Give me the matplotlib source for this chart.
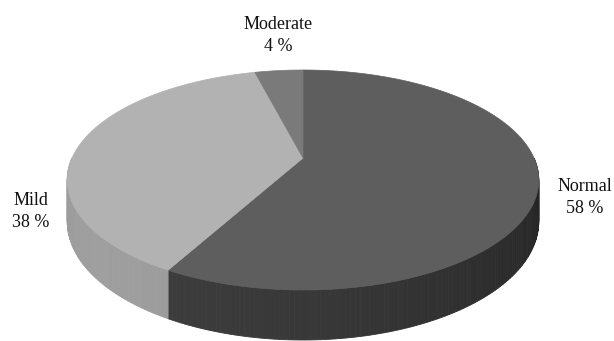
import numpy as np
import matplotlib
matplotlib.use("Agg")
import matplotlib.pyplot as plt
from matplotlib.patches import Polygon

# slice data (clockwise from 12 o'clock)
labels = ["Normal", "Mild", "Moderate"]
shares = [58, 38, 4]
pct_text = ["58 %", "38 %", "4 %"]

top_colors = ["#5e5e5e", "#b2b2b2", "#7a7a7a"]
side_base = [47, 122, 95]          # grey level of the rim before lighting

# perspective disc layout in pixel units
CX, CY = 303.0, 158.0
A, B, K = 231.0, 105.6, 0.2        # half-width, half-height, perspective strength
DEPTH = 40.0


def project(theta, drop=0.0):
    t = np.radians(theta)
    u, v = np.cos(t), np.sin(t)
    w = 1.0 + K * v
    return CX + A * u / w, CY - B * v / w + drop / w


def arc(t0, t1, drop=0.0, n=200):
    th = np.linspace(t0, t1, n)
    x, y = project(th, drop)
    return np.column_stack([x, y])


def light(theta):
    return 1.0 + 0.3 * np.cos(np.radians(theta + 140))


fig = plt.figure(figsize=(6.14, 3.41), dpi=100)
ax = fig.add_axes([0, 0, 1, 1])
ax.set_xlim(0, 614)
ax.set_ylim(341, 0)
ax.axis("off")

# slice angle ranges, going clockwise from 90 deg
bounds = []
start = 90.0
for s in shares:
    end = start - 360.0 * s / 100.0
    bounds.append((end, start))
    start = end

# rim (only the near half, -180..0, is visible)
for (lo, hi), base in zip(bounds, side_base):
    a0, a1 = max(lo, -180.0), min(hi, 0.0)
    if a1 <= a0:
        continue
    steps = np.linspace(a0, a1, max(2, int(a1 - a0) + 1))
    for t0, t1 in zip(steps[:-1], steps[1:]):
        g = np.clip(base * light(0.5 * (t0 + t1)), 0, 255) / 255.0
        pts = np.vstack([arc(t0, t1, 0, 4), arc(t1, t0, DEPTH, 4)])
        ax.add_patch(Polygon(pts, closed=True, facecolor=(g, g, g),
                             edgecolor=(g, g, g), lw=0.6))

# top faces, each a wedge from the disc centre
for (lo, hi), col in zip(bounds, top_colors):
    pts = np.vstack([[CX, CY], arc(hi, lo)])
    ax.add_patch(Polygon(pts, closed=True, facecolor=col, edgecolor=col, lw=0.5))

# labels
font = dict(family=["Liberation Serif", "DejaVu Serif"], fontsize=13,
            ha="center", va="baseline", color="#111111")
label_pos = {"Normal": (585, 191), "Mild": (31, 205), "Moderate": (278, 29)}
for name, pct in zip(labels, pct_text):
    x, y = label_pos[name]
    ax.text(x, y, name, **font)
    ax.text(x, y + 22, pct, **font)

fig.savefig("out.png", dpi=100)
